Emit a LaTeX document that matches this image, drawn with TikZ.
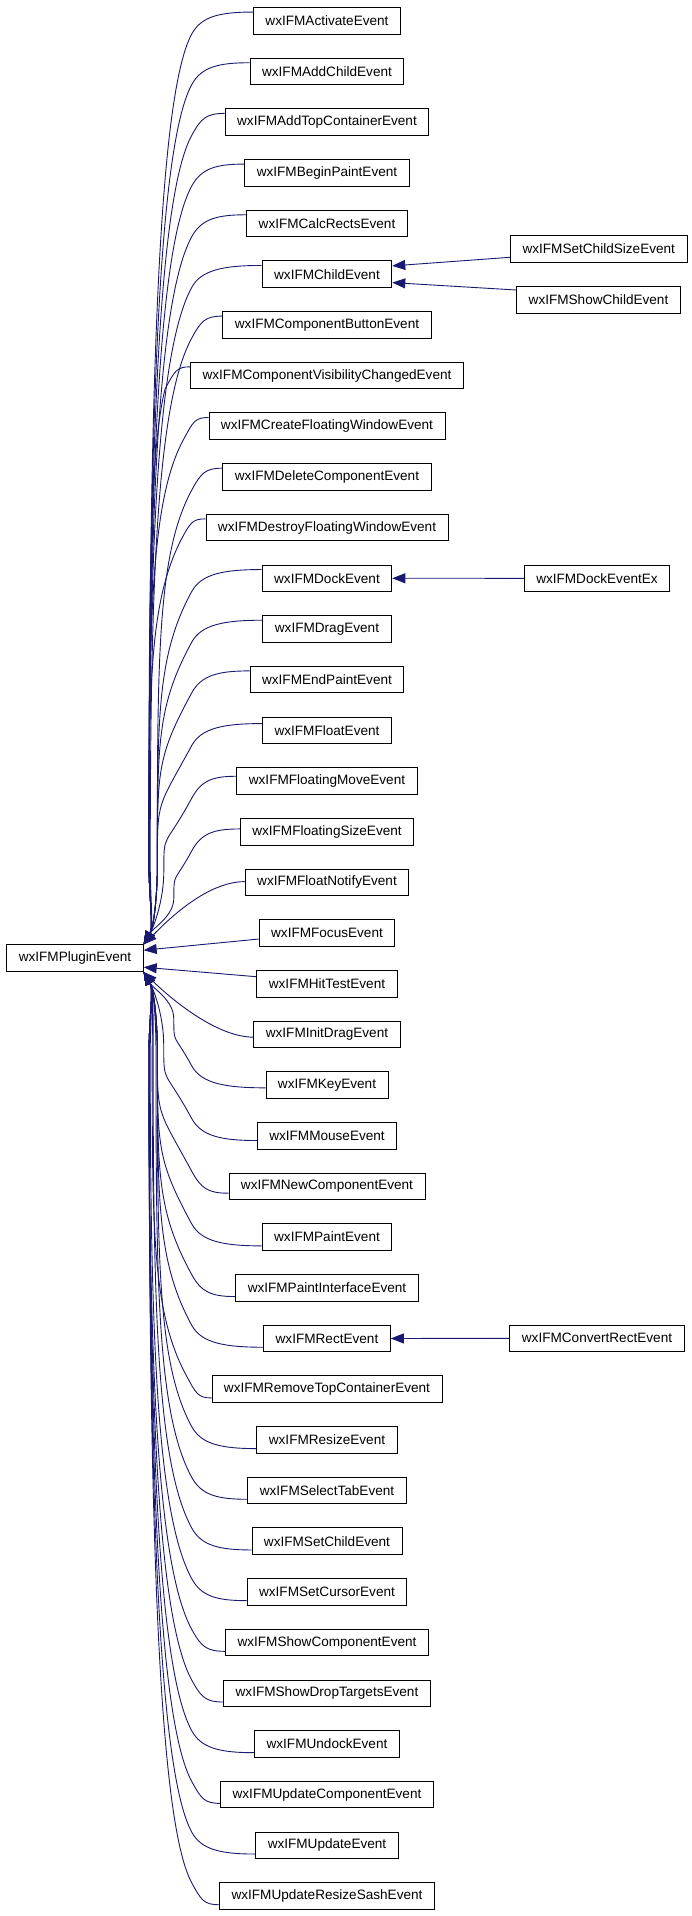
\documentclass[tikz,border=0pt]{standalone}
\usepackage{fontspec}
\setmainfont{Liberation Sans}
\usetikzlibrary{arrows.meta}
\definecolor{edgecol}{HTML}{191970}
\tikzset{
  box/.style={draw=black, line width=0.9pt, fill=white, rectangle, inner xsep=12pt, inner ysep=0pt,
    minimum height=26.6pt, font=\fontsize{13.58pt}{16pt}\selectfont, text=black},
  edge/.style={draw=edgecol, line width=0.9pt, -{Triangle[length=13pt,width=10pt]}},
}
\newcommand{\wxFarEdge}[4]{%
  \path (n#1.#3); \pgfgetlastxy{\wxax}{\wxay}%
  \path (plugin.#4); \pgfgetlastxy{\wxbx}{\wxby}%
  \pgfmathsetmacro\wsg{#2}%
  \pgfmathsetmacro\wdd{abs(18.5-#1)}%
  \pgfmathsetmacro\woff{max(5,16-2*\wdd)}%
  \pgfmathsetmacro\wshift{\wsg*\woff}%
  \pgfmathsetmacro\wSx{\wxax}%
  \pgfmathsetmacro\wAY{\wxay}%
  \pgfmathsetmacro\wSy{\wAY+\wshift}%
  \pgfmathsetmacro\wEx{\wxbx}%
  \pgfmathsetmacro\wEy{\wxby}%
  \pgfmathsetmacro\wKx{min(191.7,\wSx-25)}%
  \pgfmathsetmacro\wKy{\wSy+\wsg*22}%
  \pgfmathsetmacro\wdist{\wsg*(\wEy-\wKy)}%
  \pgfmathsetmacro\wdy{\wsg*(\wEy-\wSy)}%
  \pgfmathsetmacro\waa{min(72,0.4*\wdist)}%
  \pgfmathsetmacro\wAx{max(\wKx-0.477*\waa,149)}%
  \pgfmathsetmacro\wAy{\wKy+\wsg*0.878*\waa}%
  \pgfmathsetmacro\wV{max(149,min(186-37*min(1,\wdy/650),\wAx))}%
  \pgfmathsetmacro\whh{min(80,0.5*\wdist)}%
  \pgfmathsetmacro\wMy{\wEy-\wsg*\whh}%
  \pgfmathsetmacro\wBy{\wMy-\wsg*0.55*(\wdist-\whh)}%
  \pgfmathsetmacro\wCy{\wMy+\wsg*0.4*\whh}%
  \pgfmathsetmacro\wDx{\wEx+10}%
  \pgfmathsetmacro\wDy{\wEy-\wsg*17.4}%
  \pgfmathsetmacro\wPx{\wSx-0.55*(\wSx-\wKx)}%
  \pgfmathsetmacro\wQx{\wKx+9.5}%
  \pgfmathsetmacro\wQy{\wKy-\wsg*17.5}%
  \draw[edge] ([yshift=\wshift pt]n#1.#3) .. controls (\wPx pt,\wSy pt) and (\wQx pt,\wQy pt) .. (\wKx pt,\wKy pt)
     .. controls (\wAx pt,\wAy pt) and (\wV pt,\wBy pt) .. (\wV pt,\wMy pt)
     .. controls (\wV pt,\wCy pt) and (\wDx pt,\wDy pt) .. (plugin.#4);
}
\begin{document}
\begin{tikzpicture}[x=1pt,y=-1pt]
\useasboundingbox (0,0) rectangle (692,1916);
\fill[white] (0,0) rectangle (692,1916);
\foreach \i/\t in {0/wxIFMActivateEvent, 1/wxIFMAddChildEvent, 2/wxIFMAddTopContainerEvent,
  3/wxIFMBeginPaintEvent, 4/wxIFMCalcRectsEvent, 5/wxIFMChildEvent, 6/wxIFMComponentButtonEvent,
  7/wxIFMComponentVisibilityChangedEvent, 8/wxIFMCreateFloatingWindowEvent, 9/wxIFMDeleteComponentEvent,
  10/wxIFMDestroyFloatingWindowEvent, 11/wxIFMDockEvent, 12/wxIFMDragEvent, 13/wxIFMEndPaintEvent,
  14/wxIFMFloatEvent, 15/wxIFMFloatingMoveEvent, 16/wxIFMFloatingSizeEvent, 17/wxIFMFloatNotifyEvent,
  18/wxIFMFocusEvent, 19/wxIFMHitTestEvent, 20/wxIFMInitDragEvent, 21/wxIFMKeyEvent, 22/wxIFMMouseEvent,
  23/wxIFMNewComponentEvent, 24/wxIFMPaintEvent, 25/wxIFMPaintInterfaceEvent, 26/wxIFMRectEvent,
  27/wxIFMRemoveTopContainerEvent, 28/wxIFMResizeEvent, 29/wxIFMSelectTabEvent, 30/wxIFMSetChildEvent,
  31/wxIFMSetCursorEvent, 32/wxIFMShowComponentEvent, 33/wxIFMShowDropTargetsEvent, 34/wxIFMUndockEvent,
  35/wxIFMUpdateComponentEvent, 36/wxIFMUpdateEvent, 37/wxIFMUpdateResizeSashEvent}
  {\node[box] (n\i) at (327,{20.8+50.68*\i}) {\t};}
\node[box] (plugin) at (75,958.2) {wxIFMPluginEvent};
\node[box] (scs) at (598.8,248.8) {wxIFMSetChildSizeEvent};
\node[box] (shc) at (598.5,299.8) {wxIFMShowChildEvent};
\node[box] (dex) at (597,578.3) {wxIFMDockEventEx};
\node[box] (cre) at (597,1338.3) {wxIFMConvertRectEvent};
\foreach \i in {0,...,16} {\wxFarEdge{\i}{-1}{north west}{north east}}
\foreach \i in {21,...,37} {\wxFarEdge{\i}{1}{south west}{south east}}
\draw[edge] ([yshift=-13pt]n17.north west) .. controls +(-40,0) and +(20,-20) .. (plugin.north east);
\draw[edge] ([yshift=-6pt]n18.west) -- ([yshift=8pt]plugin.east);
\draw[edge] ([yshift=7pt]n19.west) -- ([yshift=-9pt]plugin.east);
\draw[edge] ([yshift=11pt]n20.south west) .. controls +(-40,0) and +(20,20) .. (plugin.south east);
\draw[edge] ([yshift=-8.5pt]scs.west) -- ([yshift=8.3pt]n5.east);
\draw[edge] ([yshift=9.8pt]shc.west) -- ([yshift=-8.4pt]n5.east);
\draw[edge] (dex.west) -- (n11.east);
\draw[edge] (cre.west) -- (n26.east);
\end{tikzpicture}
\end{document}
